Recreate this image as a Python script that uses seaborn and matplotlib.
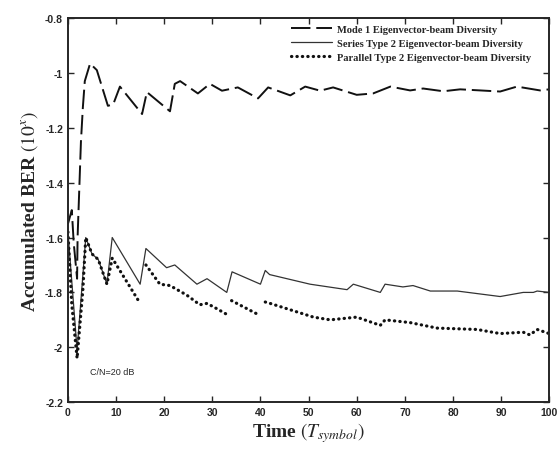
import numpy as np
import matplotlib
matplotlib.use('Agg')
import matplotlib.pyplot as plt
import seaborn as sns
import pandas as pd

sns.set_style('ticks')
plt.rcParams['font.family'] = ['Liberation Serif', 'DejaVu Serif']
plt.rcParams['axes.unicode_minus'] = False
plt.rcParams['mathtext.fontset'] = 'stix'

# Mode 1 eigenvector-beam diversity (dashed)
mode1_x = [0, 0.8, 1.2, 1.9, 2.0, 2.7, 3.1, 3.5, 4.6, 6.0, 8.3, 9.4, 10.8, 15.4, 16.4, 21.2,
           21.6, 22.2, 23.3, 27, 29.5, 32, 35.3, 39.5, 41.6, 46.2, 49.3, 52.4, 55.1, 60,
           63.4, 67, 71.1, 73.8, 78, 81.5, 85.7, 89.8, 93.3, 98.1, 100]
mode1_y = [-1.55, -1.5, -1.62, -1.75, -1.6, -1.25, -1.125, -1.03, -0.966, -0.99, -1.12, -1.115,
           -1.05, -1.15, -1.07, -1.14, -1.10, -1.04, -1.03, -1.075, -1.04, -1.065, -1.053,
           -1.093, -1.053, -1.082, -1.05, -1.065, -1.053, -1.08, -1.075, -1.05, -1.064,
           -1.057, -1.067, -1.06, -1.064, -1.068, -1.05, -1.064, -1.06]

# Series type 2 (solid)
series_x = [0, 1.9, 3.7, 5, 6.3, 8.1, 9.2, 15, 16.2, 20.5, 22.2, 26.8, 28.9, 33, 34.1, 40,
            41, 41.9, 50.3, 58, 59.3, 64.9, 65.9, 69.6, 71.7, 75.3, 80.9, 89.8, 94.6, 96.7,
            97.5, 100]
series_y = [-1.58, -2.01, -1.6, -1.66, -1.68, -1.77, -1.6, -1.77, -1.64, -1.71, -1.70, -1.77,
            -1.75, -1.80, -1.725, -1.77, -1.72, -1.735, -1.77, -1.79, -1.77, -1.80, -1.77,
            -1.78, -1.775, -1.795, -1.795, -1.815, -1.80, -1.80, -1.795, -1.80]

# Parallel type 2 (dotted), broken into segments
par_x = [0, 0.8, 1.9, 3.1, 3.7, 5, 6.3, 8.1, 9.2, 15,
         16.2, 19.1, 21.2, 24.7, 27.4, 28.9, 31, 33,
         34, 40,
         41, 42, 51, 54.5, 60, 64.9, 65.9, 71.1, 76.7, 85, 89.8, 94.6, 96, 97.5, 100]
par_y = [-1.58, -1.845, -2.04, -1.79, -1.6, -1.66, -1.68, -1.77, -1.675, -1.84,
         -1.70, -1.77, -1.775, -1.81, -1.845, -1.84, -1.86, -1.88,
         -1.83, -1.885,
         -1.835, -1.84, -1.89, -1.9, -1.89, -1.92, -1.90, -1.91, -1.93, -1.935, -1.95,
         -1.945, -1.955, -1.935, -1.95]
par_seg = [0] * 10 + [1] * 8 + [2] * 2 + [3] * 15

labels = ['Mode 1 Eigenvector-beam Diversity',
          'Series Type 2 Eigenvector-beam Diversity',
          'Parallel Type 2 Eigenvector-beam Diversity']

df_mode1 = pd.DataFrame({'x': mode1_x, 'y': mode1_y})
df_series = pd.DataFrame({'x': series_x, 'y': series_y})
df_par = pd.DataFrame({'x': par_x, 'y': par_y, 'seg': par_seg})

fig = plt.figure(figsize=(5.57, 4.52), dpi=100)
ax = fig.add_axes([0.122, 0.108, 0.864, 0.850])

sns.lineplot(data=df_mode1, x='x', y='y', ax=ax, color='#111111', lw=1.4,
             linestyle=(0, (10, 3)), sort=False, label=labels[0])
sns.lineplot(data=df_series, x='x', y='y', ax=ax, color='#333333', lw=0.9,
             sort=False, label=labels[1])
sns.lineplot(data=df_par, x='x', y='y', units='seg', estimator=None, ax=ax,
             color='#111111', lw=2.3, linestyle=(0, (0.1, 1.6)),
             dash_capstyle='round', sort=False, label=labels[2])

ax.set_xlim(0, 100)
ax.set_ylim(-2.2, -0.8)
ax.set_xticks(np.arange(0, 101, 10))
ax.set_yticks([-2.2, -2, -1.8, -1.6, -1.4, -1.2, -1, -0.8])
ax.set_yticklabels(['-2.2', '-2', '-1.8', '-1.6', '-1.4', '-1.2', '-1', '-0.8'])
ax.tick_params(direction='in', top=True, right=True, length=4, width=1,
               labelsize=7.5)
for lab in ax.get_xticklabels() + ax.get_yticklabels():
    lab.set_family(['Liberation Sans', 'DejaVu Sans'])
    lab.set_fontweight('bold')
for s in ax.spines.values():
    s.set_linewidth(1.4)

ax.set_xlabel(r'Time $(T_{symbol})$', fontsize=14, fontweight='bold', labelpad=2)
ax.set_ylabel(r'Accumulated BER $(10^x)$', fontsize=14, fontweight='bold', labelpad=4)

ax.text(4.6, -2.088, 'C/N=20 dB', fontsize=6.5, family=['Liberation Sans', 'DejaVu Sans'],
        va='center', ha='left')

handles, _ = ax.get_legend_handles_labels()
ax.legend(handles=handles[:3], labels=labels, loc='upper right', frameon=False,
          prop={'weight': 'bold', 'size': 7.6}, handlelength=3.9,
          handletextpad=0.4, labelspacing=0.45, borderaxespad=0.2,
          bbox_to_anchor=(0.975, 1.0))

fig.savefig('out.png', dpi=100, facecolor='white')
